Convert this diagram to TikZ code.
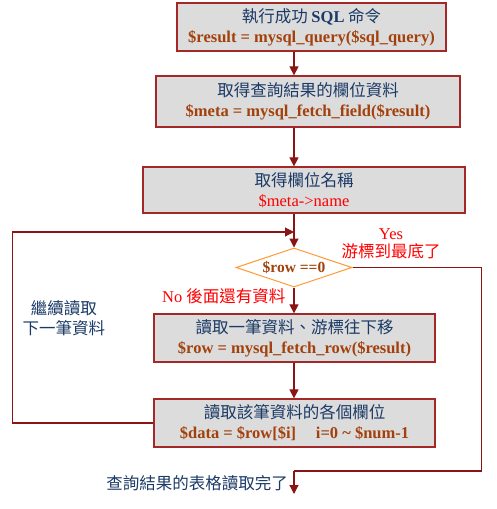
\documentclass[tikz,border=0pt]{standalone}
\usepackage{fontspec}
\setmainfont{Liberation Serif}
\newfontfamily\cjk{Noto Sans CJK TC}
\usepackage{xcolor}
\usepackage{tikz}
\usetikzlibrary{arrows.meta,positioning,shapes.geometric}
\definecolor{boxred}{HTML}{A52828}
\definecolor{boxgray}{HTML}{DCDCDC}
\definecolor{navyx}{HTML}{1B3A66}
\definecolor{rustx}{HTML}{A3410C}
\definecolor{linered}{HTML}{8B1414}
\definecolor{orangex}{HTML}{FF9933}
\tikzset{
  box/.style={draw=boxred,line width=1.3pt,fill=boxgray,align=center,inner sep=0pt,font=\fontsize{16.5}{20}\selectfont},
  dia/.style={diamond,draw=orangex,line width=1pt,fill=white,inner sep=0pt,aspect=3,minimum width=116pt,minimum height=39pt,font=\fontsize{15.5}{16}\selectfont\bfseries,text=rustx},
  ar/.style={-{Triangle[length=9pt,width=9pt]},line width=1.2pt,linered},
  ln/.style={line width=1.2pt,linered},
  note/.style={align=center,inner sep=0pt,font=\fontsize{16.5}{18}\selectfont}
}
\begin{document}
\begin{tikzpicture}[x=1pt,y=-1pt]
\useasboundingbox (0,0) rectangle (496,509);
\node[box,minimum width=269pt,minimum height=48pt] (b1) at (311.5,27)
  {\color{navyx}\cjk 執行成功 {\rmfamily\bfseries SQL} 命令\\
   \color{rustx}\bfseries \$result = mysql\_query(\$sql\_query)};
\node[box,minimum width=304pt,minimum height=51pt] (b2) at (308,101.5)
  {\color{navyx}\cjk 取得查詢結果的欄位資料\\
   \color{rustx}\bfseries \$meta = mysql\_fetch\_field(\$result)};
\node[box,minimum width=322pt,minimum height=46pt] (b3) at (304,190)
  {\color{navyx}\cjk 取得欄位名稱\\
   \color{red}\$meta->name};
\node[dia] (dec) at (294,267.5) {\$row ==0};
\node[box,minimum width=281pt,minimum height=48pt] (b4) at (294.5,338)
  {\color{navyx}\cjk 讀取一筆資料、游標往下移\\
   \color{rustx}\bfseries \$row = mysql\_fetch\_row(\$result)};
\node[box,minimum width=281pt,minimum height=48pt] (b5) at (294.5,423)
  {\color{navyx}\cjk 讀取該筆資料的各個欄位\\
   \color{rustx}\bfseries \$data = \$row[\$i]\hspace{1.2em}i=0 \textasciitilde{} \$num-1};
\coordinate (join) at (294,232);
\coordinate (done) at (294,494);

\draw[ar] (dec.north |- b1.south) -- (dec.north |- b2.north);
\draw[ar] (dec.north |- b2.south) -- (dec.north |- b3.north);
\draw[ar] (dec.north |- b3.south) -- (dec.north);
\draw[ar] (dec.south) -- (dec.south |- b4.north);
\draw[ar] (dec.south |- b4.south) -- (dec.south |- b5.north);
\draw[ar] (b5.west) -- ++(-141,0) |- (join);
\draw[ln] (dec.east) -- ++(129,0) |- (294,471) coordinate (turn);
\draw[ar] (turn) -- (done);

\node[note,text=red] (yes) at (391,244) {Yes\\{\cjk 游標到最底了}};
\node[note,text=red,anchor=west] (no) at (162,296) {No {\cjk 後面還有資料}};
\node[note,text=navyx,font=\fontsize{16.5}{20}\selectfont\cjk] (again) at (64,318) {繼續讀取\\下一筆資料};
\node[note,text=navyx,anchor=east,font=\fontsize{16.5}{18}\selectfont\cjk] (fin) at (288,483) {查詢結果的表格讀取完了};
\end{tikzpicture}
\end{document}
